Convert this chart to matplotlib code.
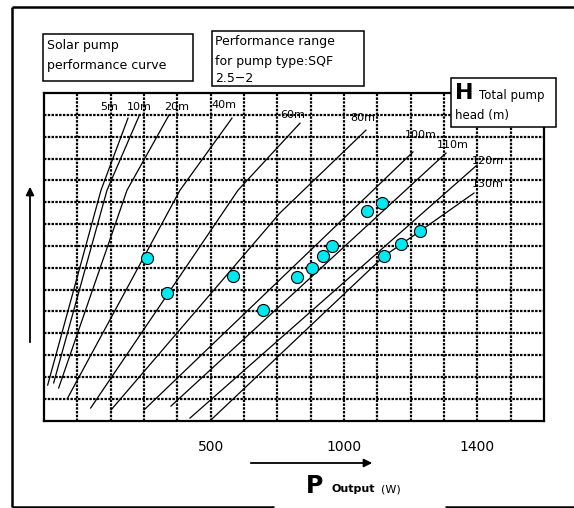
import matplotlib
matplotlib.use("Agg")
import matplotlib.pyplot as plt
from matplotlib.patches import Rectangle, FancyArrowPatch
from matplotlib.lines import Line2D

# ---------------- data (grid units: 1 unit = 1 grid cell) ----------------
head_labels = ["5m", "10m", "20m", "40m", "60m", "80m", "100m", "110m", "120m", "130m"]
curve_x = [
    [0.11, 1.71, 2.52],
    [0.29, 1.89, 2.85],
    [0.44, 2.49, 3.75],
    [0.71, 4.08, 5.64],
    [1.40, 5.82, 7.68],
    [2.01, 7.08, 9.66],
    [3.00, 11.07],
    [3.81, 12.06],
    [4.38, 12.99],
    [5.04, 10.20, 11.28, 12.90],
]
curve_y = [
    [1.63, 10.55, 13.85],
    [1.73, 10.55, 13.94],
    [1.50, 10.55, 13.99],
    [1.04, 10.55, 13.85],
    [0.58, 10.55, 13.62],
    [0.49, 9.51, 13.30],
    [0.49, 12.30],
    [0.67, 12.25],
    [0.12, 11.70],
    [0.08, 7.53, 8.68, 10.42],
]
label_x = [1.94, 2.87, 3.98, 5.40, 7.47, 9.57, 11.31, 12.27, 13.32, 13.32]
label_y = [14.36, 14.36, 14.36, 14.45, 13.99, 13.85, 13.07, 12.62, 11.88, 10.83]

point_x = [3.09, 3.68, 5.67, 6.57, 7.59, 8.04, 8.37, 8.64, 9.69, 10.14, 10.20, 10.71, 11.28]
point_y = [7.45, 5.84, 6.62, 5.07, 6.58, 6.99, 7.54, 8.00, 9.60, 9.96, 7.54, 8.09, 8.68]

tick_pos = [5, 9, 13]
tick_labels = ["500", "1000", "1400"]

# ---------------- figure ----------------
W, H = 574, 508
fig = plt.figure(figsize=(W / 100, H / 100), dpi=100)
fig.patch.set_facecolor("white")

def fx(x):
    return x / W

def fy(y):
    return 1 - y / H

ax = fig.add_axes([fx(44), fy(420.7), 500 / W, 327.7 / H])
ax.set_xlim(0, 15)
ax.set_ylim(0, 15)
for s in ax.spines.values():
    s.set_linewidth(1.6)
    s.set_color("black")
    s.set_zorder(6)

dot = (0, (1.1, 0.6))
for i in range(1, 15):
    ax.axvline(i, color="black", lw=1.6, linestyle=dot, zorder=3)
    ax.axhline(i, color="black", lw=1.6, linestyle=dot, zorder=3)

for xs, ys in zip(curve_x, curve_y):
    ax.plot(xs, ys, color="black", lw=0.9, zorder=2)

for lx, ly, t in zip(label_x, label_y, head_labels):
    ax.text(lx, ly, t, fontsize=8, ha="center", va="center", zorder=1)

ax.scatter(point_x, point_y, s=75, facecolor="#00E8F0", edgecolor="black",
           linewidth=0.8, zorder=5)

ax.set_xticks(tick_pos)
ax.set_xticklabels(tick_labels, fontsize=10)
ax.tick_params(axis="x", length=0, pad=14)
ax.set_yticks([])

# ---------------- outer frame ----------------
def fline(x0, y0, x1, y1, lw=1.8):
    fig.add_artist(Line2D([fx(x0), fx(x1)], [fy(y0), fy(y1)], color="black", lw=lw,
                          solid_capstyle="butt"))

fline(12, 7, 12, 507)
fline(12, 7, 574, 7)
fline(12, 507, 274, 507)
fline(445, 507, 574, 507)

# arrows
fig.add_artist(FancyArrowPatch((fx(30), fy(345)), (fx(30), fy(184)),
                               transform=fig.transFigure, arrowstyle="-|>",
                               mutation_scale=12, lw=1.3, color="black"))
fig.add_artist(FancyArrowPatch((fx(248), fy(463)), (fx(375), fy(463)),
                               transform=fig.transFigure, arrowstyle="-|>",
                               mutation_scale=12, lw=1.3, color="black"))

# ---------------- text boxes ----------------
def fbox(x0, y0, x1, y1):
    fig.add_artist(Rectangle((fx(x0), fy(y1)), (x1 - x0) / W, (y1 - y0) / H,
                             transform=fig.transFigure, facecolor="white",
                             edgecolor="black", lw=1.1, zorder=8))

fbox(43, 34, 193, 81)
fig.text(fx(47), fy(45), "Solar pump", fontsize=9, va="center", zorder=9)
fig.text(fx(47), fy(65), "performance curve", fontsize=9, va="center", zorder=9)

fbox(212, 31, 364, 86)
fig.text(fx(215), fy(42), "Performance range", fontsize=9, va="center", zorder=9)
fig.text(fx(215), fy(61), "for pump type:SQF", fontsize=9, va="center", zorder=9)
fig.text(fx(215), fy(79), "2.5\u22122", fontsize=9, va="center", zorder=9)

fbox(451, 78, 556, 127)
fig.text(fx(455), fy(93), "H", fontsize=16, fontweight="bold", va="center", zorder=9)
fig.text(fx(479), fy(95), "Total pump", fontsize=8.5, va="center", zorder=9)
fig.text(fx(455), fy(115), "head (m)", fontsize=8.5, va="center", zorder=9)

# axis title
fig.text(fx(306), fy(486), "P", fontsize=17, fontweight="bold", va="center", zorder=9)
fig.text(fx(331), fy(489), "Output", fontsize=8, fontweight="bold", va="center", zorder=9)
fig.text(fx(381), fy(489), "(W)", fontsize=8, va="center", zorder=9)

fig.savefig("out.png", dpi=100)
